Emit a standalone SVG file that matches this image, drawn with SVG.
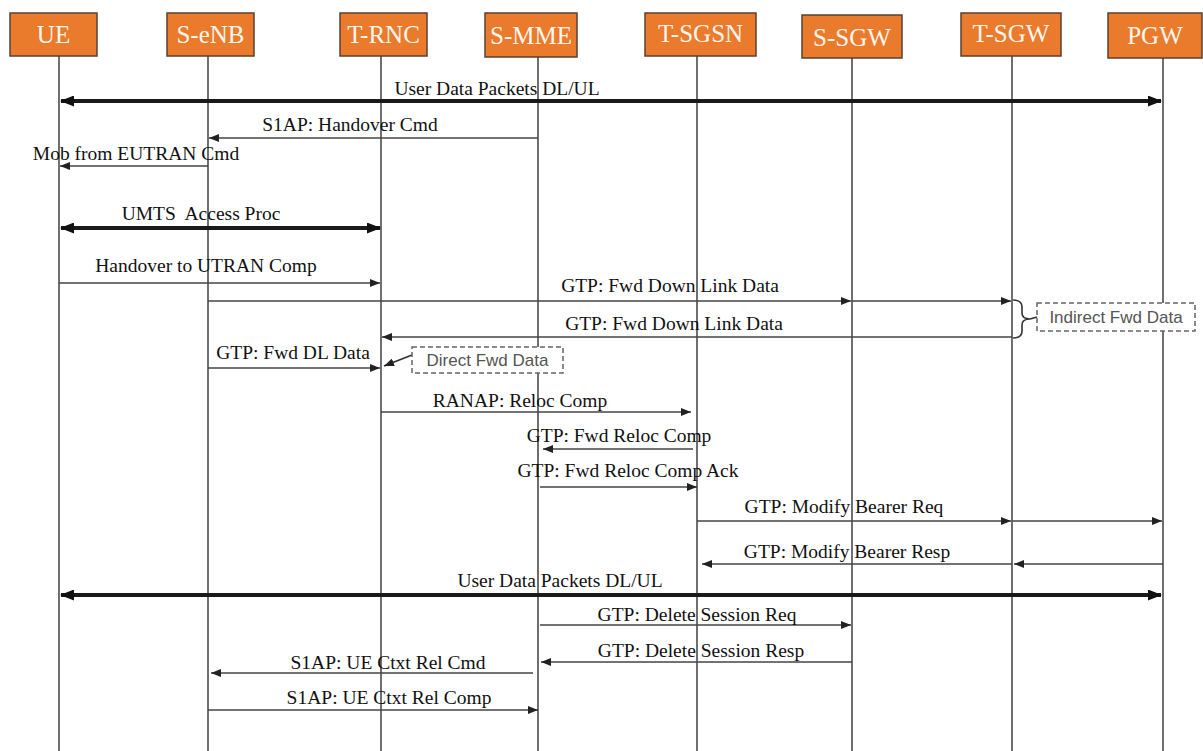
<svg xmlns="http://www.w3.org/2000/svg" width="1203" height="751" viewBox="0 0 1203 751">
<style>
.box{fill:#EA7A2C;stroke:#5a4030;stroke-width:1.5}
.hd{font-family:"Liberation Serif","Times New Roman",serif;font-size:25px;fill:#FFF6EC;text-anchor:middle}
.life{stroke:#333;stroke-width:1.4}
.msg{stroke:#444;stroke-width:1.6;fill:none;marker-end:url(#ah)}
.thick{stroke:#1a1a1a;stroke-width:4;fill:none;marker-end:url(#ahb);marker-start:url(#ahb)}
.lbl{font-family:"Liberation Serif","Times New Roman",serif;font-size:19.5px;fill:#111;text-anchor:middle}
.note{fill:#fff;stroke:#666;stroke-width:1.5;stroke-dasharray:5 3}
.ntxt{font-family:"Liberation Sans",Arial,sans-serif;font-size:17px;fill:#555;text-anchor:middle}
.lead{stroke:#333;stroke-width:1.6;fill:none}
</style>
<defs>
<marker id="ah" markerUnits="userSpaceOnUse" markerWidth="10" markerHeight="8" refX="10" refY="4" orient="auto">
<path d="M0,0 L10,4 L0,8 z" fill="#222"/>
</marker>
<marker id="ahb" markerUnits="userSpaceOnUse" markerWidth="14" markerHeight="11" refX="13" refY="5.5" orient="auto-start-reverse">
<path d="M0,0 L14,5.5 L0,11 z" fill="#111"/>
</marker>
</defs>
<rect width="1203" height="751" fill="#fff"/>

<g id="lifelines">
<line class="life" x1="59" y1="56" x2="59" y2="751"/>
<line class="life" x1="208" y1="56" x2="208" y2="751"/>
<line class="life" x1="381" y1="56" x2="381" y2="751"/>
<line class="life" x1="538" y1="56" x2="538" y2="751"/>
<line class="life" x1="697" y1="56" x2="697" y2="751"/>
<line class="life" x1="852" y1="57" x2="852" y2="751"/>
<line class="life" x1="1012" y1="56" x2="1012" y2="751"/>
<line class="life" x1="1163" y1="58" x2="1163" y2="751"/>
</g>

<g id="UE"><rect class="box" x="10" y="13" width="87" height="43"/><text class="hd" x="53.5" y="43">UE</text></g>
<g id="S-eNB"><rect class="box" x="167" y="13" width="87" height="43"/><text class="hd" x="210.5" y="43">S-eNB</text></g>
<g id="T-RNC"><rect class="box" x="340" y="13" width="87" height="43"/><text class="hd" x="383.5" y="43">T-RNC</text></g>
<g id="S-MME"><rect class="box" x="485" y="13" width="92" height="44"/><text class="hd" x="531" y="44">S-MME</text></g>
<g id="T-SGSN"><rect class="box" x="645" y="13" width="111" height="43"/><text class="hd" x="700.5" y="42">T-SGSN</text></g>
<g id="S-SGW"><rect class="box" x="802" y="15" width="100" height="43"/><text class="hd" x="852" y="46">S-SGW</text></g>
<g id="T-SGW"><rect class="box" x="961" y="13" width="100" height="43"/><text class="hd" x="1011" y="42">T-SGW</text></g>
<g id="PGW"><rect class="box" x="1108" y="13" width="94" height="45"/><text class="hd" x="1155" y="44">PGW</text></g>

<g id="connectors">
<line class="thick" x1="61" y1="101" x2="1161" y2="101"/>
<line class="msg" x1="538" y1="138" x2="209" y2="138"/>
<line class="msg" x1="208" y1="166" x2="60" y2="166"/>
<line class="thick" x1="61" y1="228" x2="380" y2="228"/>
<line class="msg" x1="59" y1="283" x2="380" y2="283"/>
<line class="msg" x1="208" y1="301" x2="851" y2="301"/>
<line class="msg" x1="852" y1="301" x2="1011" y2="301"/>
<line class="msg" x1="1012" y1="337" x2="382" y2="337"/>
<line class="msg" x1="208" y1="368" x2="380" y2="368"/>
<line class="msg" x1="381" y1="412" x2="691" y2="412"/>
<line class="msg" x1="693" y1="449" x2="543" y2="449"/>
<line class="msg" x1="540" y1="487" x2="697" y2="487"/>
<line class="msg" x1="697" y1="521" x2="1011" y2="521"/>
<line class="msg" x1="1012" y1="521" x2="1162" y2="521"/>
<line class="msg" x1="1163" y1="564" x2="1014" y2="564"/>
<line class="msg" x1="1012" y1="564" x2="702" y2="564"/>
<line class="thick" x1="61" y1="595" x2="1161" y2="595"/>
<line class="msg" x1="540" y1="625" x2="851" y2="625"/>
<line class="msg" x1="852" y1="662" x2="541" y2="662"/>
<line class="msg" x1="533" y1="673" x2="211" y2="673"/>
<line class="msg" x1="208" y1="710" x2="538" y2="710"/>
<path class="lead" d="M1013,300 Q1022,300 1022,307 L1022,313 Q1022,319 1030,319 Q1022,319 1022,325 L1022,331 Q1022,338 1013,338"/>
<line class="lead" x1="1030" y1="319" x2="1037" y2="317"/>
<line class="lead" x1="412" y1="355" x2="384" y2="366" style="marker-end:url(#ah)"/>
</g>

<g id="labels">
<text class="lbl" x="497" y="95">User Data Packets DL/UL</text>
<text class="lbl" x="350" y="131">S1AP: Handover Cmd</text>
<text class="lbl" x="136" y="160">Mob from EUTRAN Cmd</text>
<text class="lbl" x="201" y="220" xml:space="preserve">UMTS  Access Proc</text>
<text class="lbl" x="206" y="272">Handover to UTRAN Comp</text>
<text class="lbl" x="670" y="292">GTP: Fwd Down Link Data</text>
<text class="lbl" x="674" y="330">GTP: Fwd Down Link Data</text>
<text class="lbl" x="293" y="359">GTP: Fwd DL Data</text>
<text class="lbl" x="520" y="407">RANAP: Reloc Comp</text>
<text class="lbl" x="619" y="442">GTP: Fwd Reloc Comp</text>
<text class="lbl" x="628" y="477">GTP: Fwd Reloc Comp Ack</text>
<text class="lbl" x="844" y="513">GTP: Modify Bearer Req</text>
<text class="lbl" x="847" y="558">GTP: Modify Bearer Resp</text>
<text class="lbl" x="560" y="587">User Data Packets DL/UL</text>
<text class="lbl" x="697" y="621">GTP: Delete Session Req</text>
<text class="lbl" x="701" y="657">GTP: Delete Session Resp</text>
<text class="lbl" x="388" y="669">S1AP: UE Ctxt Rel Cmd</text>
<text class="lbl" x="389" y="704">S1AP: UE Ctxt Rel Comp</text>
</g>

<g id="indirect-fwd-data">
<rect class="note" x="1037" y="303" width="158" height="28"/>
<text class="ntxt" x="1116" y="323">Indirect Fwd Data</text>
</g>
<g id="direct-fwd-data">
<rect class="note" x="412" y="347" width="151" height="26"/>
<text class="ntxt" x="487.5" y="366">Direct Fwd Data</text>
</g>
</svg>
